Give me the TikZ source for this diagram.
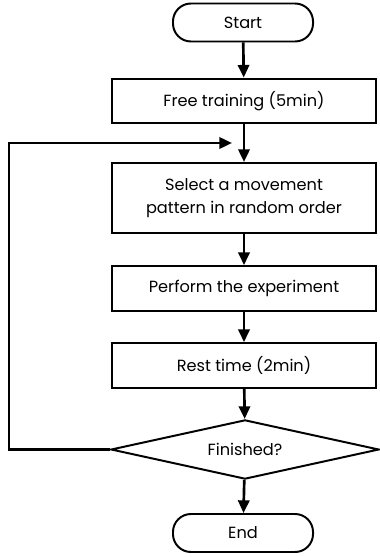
\documentclass[tikz,border=0pt]{standalone}
\usepackage{fontspec}
\setmainfont{Poppins}
\usetikzlibrary{shapes.geometric,arrows.meta}

\tikzset{
	flowline/.style={line width=1.9pt},
	flowarrow/.style={flowline, -{Triangle[length=9pt,width=8pt]}},
	stepbox/.style={draw, line width=1.4pt, minimum width=6.6cm, minimum height=1.12cm, align=center, inner sep=2pt},
	termbox/.style={draw, line width=1.4pt, rounded corners=0.45cm, minimum width=3.5cm, minimum height=0.95cm},
	decbox/.style={draw, diamond, aspect=4.55, line width=1.4pt, minimum width=6.7cm, minimum height=1.48cm, inner sep=0pt}
}

\begin{document}
\begin{tikzpicture}[x=0.025cm, y=-0.025cm, font=\fontsize{11.5}{16}\selectfont]
	\useasboundingbox (0,0) rectangle (380,557);
	\node[termbox] (start) at (243,22.5) {Start};
	\node[stepbox] (free) at (244,101) {Free training (5min)};
	\node[stepbox, minimum height=1.75cm] (select) at (244,198) {Select a movement\\pattern in random order};
	\node[stepbox] (perform) at (244,288.5) {Perform the experiment};
	\node[stepbox] (rest) at (244,365.5) {Rest time (2min)};
	\node[decbox] (fin) at (245,449.5) {Finished?};
	\node[termbox] (end) at (243,533) {End};
	\coordinate (join) at (232,143);
	\coordinate (loopl) at (9,449.5);

	\draw[flowarrow] (start) -- (free);
	\draw[flowarrow] (free) -- (select);
	\draw[flowarrow] (select) -- (perform);
	\draw[flowarrow] (perform) -- (rest);
	\draw[flowarrow] (rest) -- (fin);
	\draw[flowarrow] (fin) -- (end);
	% back to the next pattern
	\draw[flowarrow] (fin.west) -- (loopl) |- (join);
\end{tikzpicture}
\end{document}
